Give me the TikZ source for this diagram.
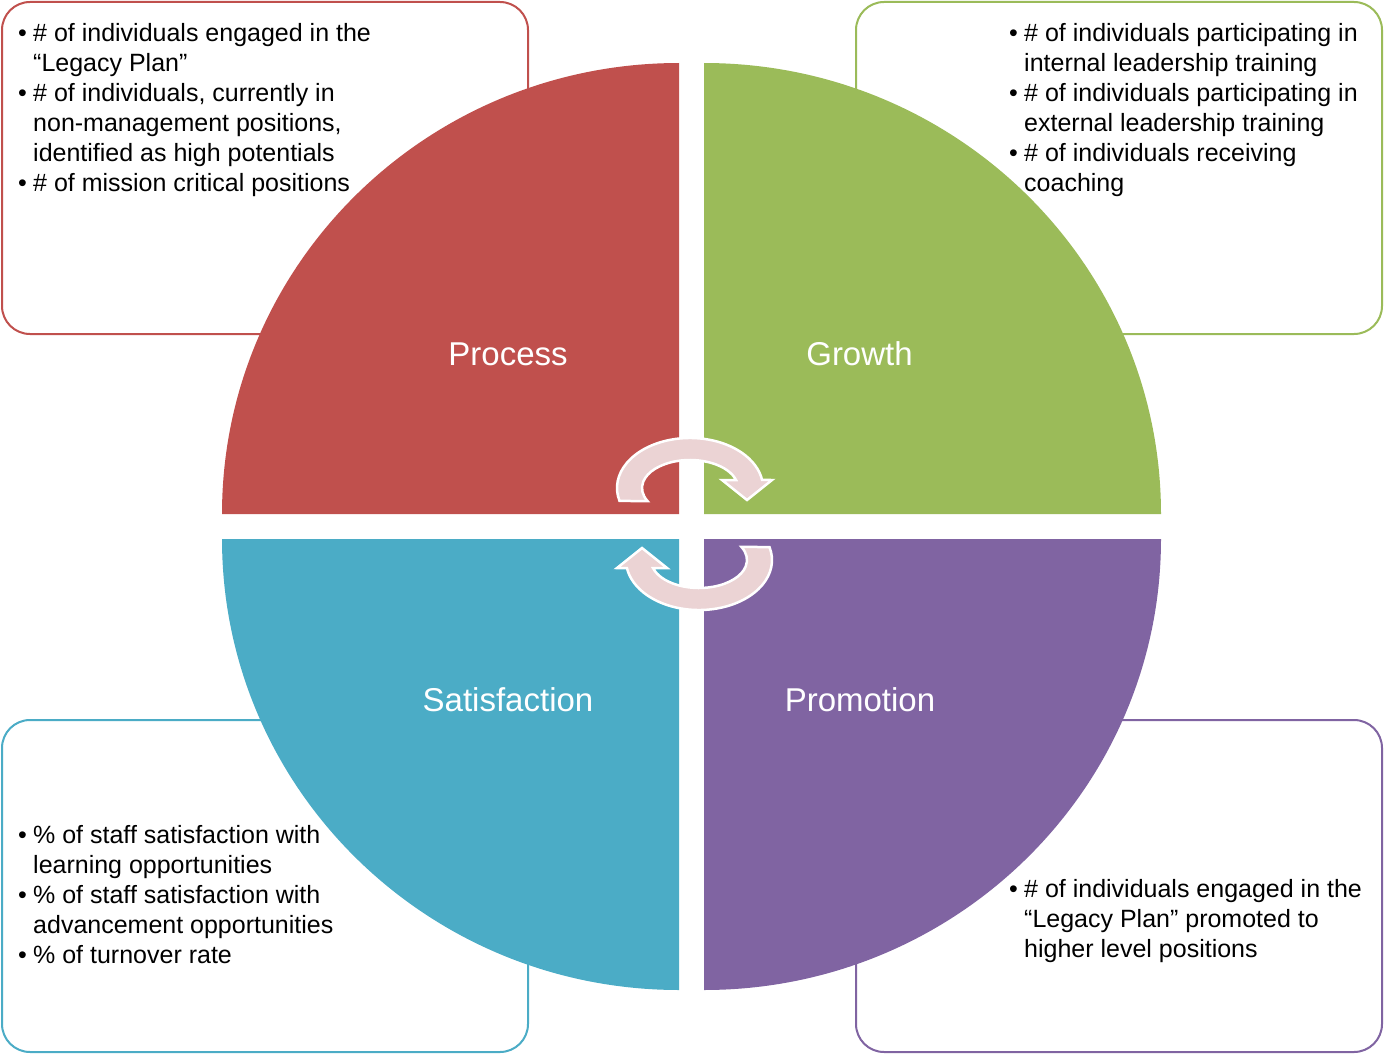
\documentclass[tikz,border=0pt]{standalone}
\usepackage{fontspec}
\setmainfont{Liberation Sans}
\definecolor{cRed}{HTML}{C0504D}
\definecolor{cGreen}{HTML}{9BBB59}
\definecolor{cBlue}{HTML}{4BACC6}
\definecolor{cPurple}{HTML}{8064A2}
\definecolor{cArrow}{HTML}{EBD3D4}
\newcommand{\blist}[1]{\vtop{\fontsize{25}{30}\selectfont\baselineskip=30pt #1}}
\newcommand{\bi}[1]{\hbox{\makebox[15pt][l]{\textbullet}#1}}
\newcommand{\bc}[1]{\hbox{\hspace*{15pt}#1}}
\begin{document}
\begin{tikzpicture}[x=1pt,y=1pt,
  infobox/.style={draw, line width=2pt, fill=white, rounded corners=28pt,
    minimum width=526pt, minimum height=332pt, anchor=north west, inner sep=0},
  qlabel/.style={text=white, font=\fontsize{33}{40}\selectfont, inner sep=0, anchor=base},
  listtext/.style={anchor=base west, inner sep=0},
  cyc/.style={fill=cArrow, draw=white, line width=2.5pt, line join=miter}]
\useasboundingbox (0,0) rectangle (1384,-1054);
% boxes
\node[infobox, draw=cRed] (pbox) at (1,-1) {};
\node[infobox, draw=cGreen] (gbox) at (855,-1) {};
\node[infobox, draw=cBlue] (sbox) at (1,-719) {};
\node[infobox, draw=cPurple] (mbox) at (855,-719) {};
% quadrants
\fill[cRed] (679,-514) -- (222,-514) arc[start angle=180, end angle=90, x radius=457, y radius=451] -- cycle;
\fill[cGreen] (704,-514) -- (704,-63) arc[start angle=90, end angle=0, x radius=457, y radius=451] -- cycle;
\fill[cBlue] (679,-539) -- (222,-539) arc[start angle=180, end angle=270, x radius=457, y radius=451] -- cycle;
\fill[cPurple] (704,-539) -- (1161,-539) arc[start angle=0, end angle=-90, x radius=457, y radius=451] -- cycle;
% labels
\node[qlabel] (lproc) at (508,-365) {Process};
\node[qlabel] (lgrow) at (859.5,-365) {Growth};
\node[qlabel] (lsat) at (508,-711) {Satisfaction};
\node[qlabel] (lprom) at (860,-711) {Promotion};
% cycle arrows
\path[cyc] (619.5,-500.9) arc[start angle=195, end angle=9.2, x radius=73, y radius=50]
  -- (772,-480) -- (747,-500) -- (722,-480) -- (736,-480)
  arc[start angle=16.6, end angle=208, x radius=48, y radius=28] -- cycle;
\begin{scope}[rotate around={180:(694.5,-524)}]
\path[cyc] (619.5,-500.9) arc[start angle=195, end angle=9.2, x radius=73, y radius=50]
  -- (772,-480) -- (747,-500) -- (722,-480) -- (736,-480)
  arc[start angle=16.6, end angle=208, x radius=48, y radius=28] -- cycle;
\end{scope}
% lists
\node[listtext] (ptext) at (18,-42) {\blist{%
\bi{\# of individuals engaged in the}
\bc{“Legacy Plan”}
\bi{\# of individuals, currently in}
\bc{non-management positions,}
\bc{identified as high potentials}
\bi{\# of mission critical positions}}};
\node[listtext] (gtext) at (1009,-42) {\blist{%
\bi{\# of individuals participating in}
\bc{internal leadership training}
\bi{\# of individuals participating in}
\bc{external leadership training}
\bi{\# of individuals receiving}
\bc{coaching}}};
\node[listtext] (stext) at (18,-843) {\blist{%
\bi{\% of staff satisfaction with}
\bc{learning opportunities}
\bi{\% of staff satisfaction with}
\bc{advancement opportunities}
\bi{\% of turnover rate}}};
\node[listtext] (mtext) at (1009,-897) {\blist{%
\bi{\# of individuals engaged in the}
\bc{“Legacy Plan” promoted to}
\bc{higher level positions}}};
\end{tikzpicture}
\end{document}
